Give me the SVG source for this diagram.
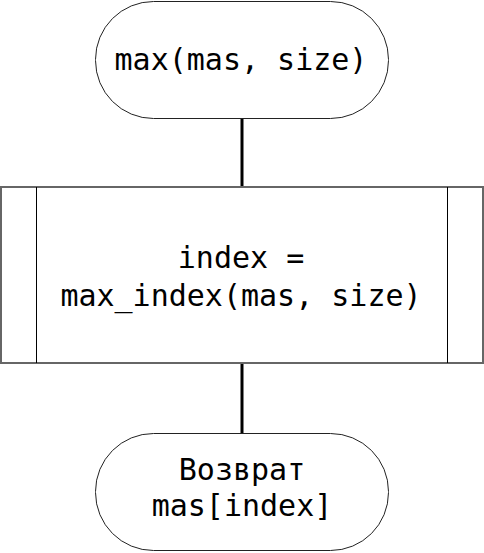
<svg xmlns="http://www.w3.org/2000/svg" width="484" height="553" viewBox="0 0 484 553">
<style>
.shape{fill:#fff;stroke:#222;stroke-width:1}
.box{fill:#fff;stroke:#666;stroke-width:2}
.inner{stroke:#000;stroke-width:1}
.conn{stroke:#000;stroke-width:3;fill:none}
text{font-family:"DejaVu Sans Mono","Liberation Mono",monospace;font-size:30px;fill:#000;text-anchor:middle}
</style>
<rect width="484" height="553" fill="#fff"/>
<g id="connectors">
<line class="conn" x1="242" y1="118" x2="242" y2="188"/>
<line class="conn" x1="242" y1="363" x2="242" y2="433"/>
</g>
<g id="start">
<rect class="shape" x="95.5" y="1.5" width="293" height="117" rx="58" ry="58"/>
<text x="241" y="70">max(mas, size)</text>
</g>
<g id="process">
<rect class="box" x="1" y="187" width="482" height="176"/>
<line class="inner" x1="36.5" y1="187" x2="36.5" y2="363"/>
<line class="inner" x1="447.5" y1="187" x2="447.5" y2="363"/>
<text x="241" y="268">index =</text>
<text x="241" y="306">max_index(mas, size)</text>
</g>
<g id="end">
<rect class="shape" x="95.5" y="433.5" width="293" height="117" rx="58" ry="58"/>
<text x="242" y="480">Возврат</text>
<text x="242" y="516">mas[index]</text>
</g>
</svg>
